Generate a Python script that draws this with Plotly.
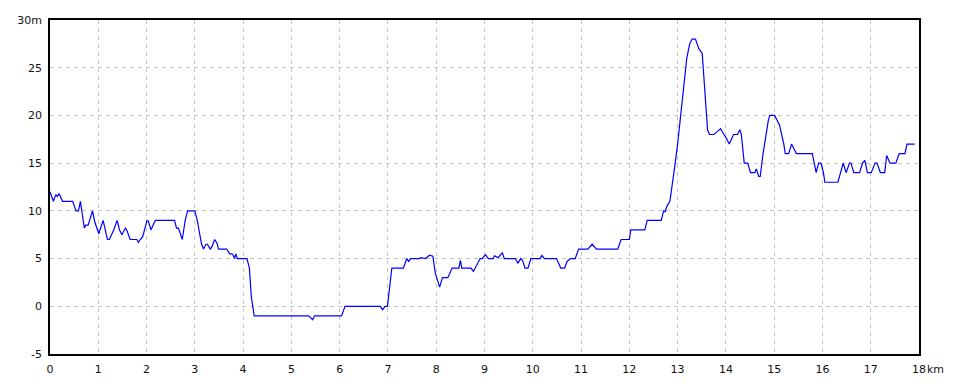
import plotly.graph_objects as go

distance_km = [
    0.00, 0.07, 0.12, 0.15, 0.19, 0.26, 0.47, 0.54, 0.59, 0.63, 0.71, 0.74, 0.79, 0.88, 0.93,
    1.01, 1.10, 1.19, 1.23, 1.32, 1.39, 1.44, 1.49, 1.56, 1.59, 1.66, 1.80, 1.83, 1.87, 1.92,
    2.01, 2.04, 2.09, 2.11, 2.18, 2.58, 2.62, 2.66, 2.74, 2.80, 2.85, 3.00, 3.05, 3.14, 3.18,
    3.23, 3.26, 3.32, 3.36, 3.41, 3.46, 3.49, 3.66, 3.72, 3.77, 3.80, 3.82, 3.85, 3.88, 4.08,
    4.13, 4.17, 4.20, 4.23, 5.36, 5.44, 5.48, 6.04, 6.11, 6.84, 6.89, 6.94, 6.99, 7.03, 7.08,
    7.32, 7.39, 7.43, 7.47, 7.65, 7.68, 7.78, 7.86, 7.93, 7.98, 8.07, 8.13, 8.24, 8.33, 8.47,
    8.50, 8.53, 8.72, 8.77, 8.84, 8.91, 8.95, 9.02, 9.08, 9.18, 9.21, 9.28, 9.37, 9.41, 9.64,
    9.69, 9.75, 9.79, 9.84, 9.90, 9.96, 10.15, 10.19, 10.24, 10.49, 10.55, 10.58, 10.66, 10.71,
    10.78, 10.88, 10.95, 11.14, 11.23, 11.32, 11.76, 11.83, 12.00, 12.03, 12.32, 12.37, 12.66,
    12.71, 12.74, 12.78, 12.84, 12.87, 12.95, 13.00, 13.06, 13.13, 13.19, 13.25, 13.30, 13.37,
    13.44, 13.51, 13.56, 13.60, 13.62, 13.66, 13.75, 13.82, 13.89, 13.96, 14.00, 14.07, 14.11,
    14.16, 14.24, 14.29, 14.32, 14.38, 14.45, 14.51, 14.60, 14.63, 14.68, 14.71, 14.77, 14.83,
    14.88, 14.91, 15.01, 15.06, 15.11, 15.20, 15.23, 15.30, 15.36, 15.41, 15.46, 15.79, 15.83,
    15.87, 15.92, 15.97, 16.02, 16.05, 16.32, 16.37, 16.43, 16.49, 16.56, 16.59, 16.65, 16.77,
    16.83, 16.88, 16.93, 17.01, 17.09, 17.13, 17.20, 17.29, 17.33, 17.40, 17.52, 17.59, 17.71,
    17.75, 17.91,
]

elevation_m = [
    12.0, 11.0, 11.7, 11.5, 11.8, 11.0, 11.0, 10.0, 10.0, 11.0, 8.2, 8.5, 8.5, 10.0, 8.8,
    7.6, 9.0, 7.0, 7.0, 8.0, 9.0, 8.0, 7.5, 8.2, 8.0, 7.0, 7.0, 6.7, 7.0, 7.3,
    9.0, 8.9, 8.0, 8.2, 9.0, 9.0, 8.2, 8.2, 7.0, 9.0, 10.0, 10.0, 9.0, 6.5, 6.0,
    6.5, 6.5, 6.0, 6.3, 7.0, 6.6, 6.0, 6.0, 5.5, 5.5, 5.3, 5.0, 5.5, 5.0, 5.0,
    4.0, 1.0, 0.0, -1.0, -1.0, -1.4, -1.0, -1.0, 0.0, 0.0, -0.35, 0.0, 0.0, 2.0, 4.0,
    4.0, 5.0, 4.7, 5.0, 5.0, 5.1, 5.0, 5.35, 5.25, 3.5, 2.0, 3.0, 3.0, 4.0, 4.0,
    4.8, 4.0, 4.0, 3.65, 4.3, 5.0, 5.0, 5.4, 5.0, 5.0, 5.3, 5.1, 5.6, 5.0, 5.0,
    4.5, 5.0, 4.8, 4.0, 4.0, 5.0, 5.0, 5.35, 5.0, 5.0, 4.2, 4.0, 4.0, 4.7,
    5.0, 5.0, 6.0, 6.0, 6.5, 6.0, 6.0, 7.0, 7.0, 8.0, 8.0, 9.0, 9.0,
    10.0, 9.9, 10.5, 11.0, 12.0, 15.0, 17.0, 20.0, 23.0, 26.0, 27.5, 28.0, 28.0,
    27.0, 26.5, 23.0, 20.0, 18.5, 18.0, 18.0, 18.3, 18.6, 18.0, 17.7, 17.0, 17.5,
    18.0, 18.0, 18.5, 18.0, 15.0, 15.0, 14.0, 14.0, 14.4, 13.6, 13.6, 16.0, 18.0,
    19.5, 20.0, 20.0, 19.5, 19.0, 17.0, 16.0, 16.0, 17.0, 16.5, 16.0, 16.0, 15.0,
    14.0, 15.0, 15.0, 14.0, 13.0, 13.0, 14.0, 15.0, 14.0, 15.0, 15.0, 14.0, 14.0,
    15.0, 15.3, 14.0, 14.0, 15.0, 15.0, 14.0, 14.0, 15.8, 15.0, 15.0, 16.0, 16.0,
    17.0, 17.0,
]

x_tick_vals = list(range(0, 19))
x_tick_text = [str(v) for v in range(0, 19)]
y_tick_vals = [-5, 0, 5, 10, 15, 20, 25, 30]
y_tick_text = ["-5", "0", "5", "10", "15", "20", "25", "30m"]

FONT = dict(family="DejaVu Sans", size=11, color="#111111")
GRID = "#c4c4c4"

fig = go.Figure()
fig.add_trace(go.Scatter(
    x=distance_km, y=elevation_m, mode="lines",
    line=dict(color="#0000ff", width=1.2, shape="linear"),
    hoverinfo="x+y", showlegend=False,
))

fig.update_layout(
    width=960, height=384,
    margin=dict(l=50, r=41, t=20, b=30, autoexpand=False),
    paper_bgcolor="white", plot_bgcolor="white",
    font=FONT,
    xaxis=dict(
        range=[0, 18], tickvals=x_tick_vals, ticktext=x_tick_text,
        showgrid=True, gridcolor=GRID, griddash="4px,4px", gridwidth=1,
        showline=True, linecolor="black", linewidth=1.5, mirror=True,
        zeroline=False, ticks="", ticklabelstandoff=4, tickfont=FONT,
        automargin=False,
    ),
    yaxis=dict(
        range=[-5, 30], tickvals=y_tick_vals, ticktext=y_tick_text,
        showgrid=True, gridcolor=GRID, griddash="4px,4px", gridwidth=1,
        showline=True, linecolor="black", linewidth=1.5, mirror=True,
        zeroline=False, ticks="", ticklabelstandoff=4, tickfont=FONT,
        automargin=False,
    ),
    annotations=[dict(
        x=18, xref="x", y=0, yref="paper", text="km", showarrow=False,
        xanchor="left", yanchor="top", xshift=6, yshift=-7, font=FONT,
    )],
)

fig.write_html("out.html")
